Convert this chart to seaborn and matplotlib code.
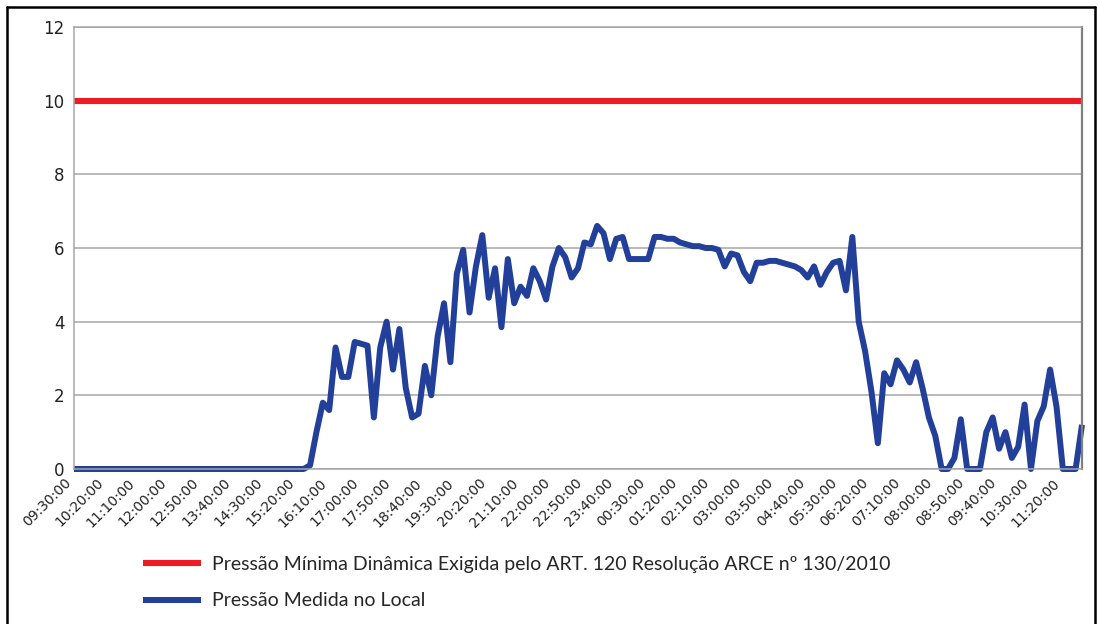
import matplotlib
matplotlib.use('Agg')
import matplotlib.pyplot as plt
from matplotlib.lines import Line2D
import pandas as pd
import seaborn as sns

# pressao medida a cada 10 minutos (mca), de 09:30 ate 11:50 do dia seguinte
pressao_medida = [
    0, 0, 0, 0, 0, 0, 0, 0, 0, 0,
    0, 0, 0, 0, 0, 0, 0, 0, 0, 0,
    0, 0, 0, 0, 0, 0, 0, 0, 0, 0,
    0, 0, 0, 0, 0, 0, 0, 0.1, 1.0, 1.8,
    1.6, 3.3, 2.5, 2.5, 3.45, 3.4, 3.35, 1.4, 3.3, 4.0,
    2.7, 3.8, 2.2, 1.4, 1.5, 2.8, 2.0, 3.6, 4.5, 2.9,
    5.3, 5.95, 4.25, 5.5, 6.35, 4.65, 5.45, 3.85, 5.7, 4.5,
    4.95, 4.7, 5.45, 5.1, 4.6, 5.5, 6.0, 5.75, 5.2, 5.45,
    6.15, 6.1, 6.6, 6.4, 5.7, 6.25, 6.3, 5.7, 5.7, 5.7,
    5.7, 6.3, 6.3, 6.25, 6.25, 6.15, 6.1, 6.05, 6.05, 6.0,
    6.0, 5.95, 5.5, 5.85, 5.8, 5.35, 5.1, 5.6, 5.6, 5.65,
    5.65, 5.6, 5.55, 5.5, 5.4, 5.2, 5.5, 5.0, 5.35, 5.6,
    5.65, 4.85, 6.3, 4.0, 3.2, 2.1, 0.7, 2.6, 2.3, 2.95,
    2.7, 2.35, 2.9, 2.2, 1.4, 0.9, 0.0, 0.0, 0.3, 1.35,
    0.0, 0.0, 0.0, 1.0, 1.4, 0.55, 1.0, 0.3, 0.6, 1.75,
    0.0, 1.3, 1.7, 2.7, 1.7, 0.0, 0.0, 0.0, 1.2,
]
pressao_minima = 10

rotulos_horas = ['09:30:00', '10:20:00', '11:10:00', '12:00:00', '12:50:00', '13:40:00',
                 '14:30:00', '15:20:00', '16:10:00', '17:00:00', '17:50:00', '18:40:00',
                 '19:30:00', '20:20:00', '21:10:00', '22:00:00', '22:50:00', '23:40:00',
                 '00:30:00', '01:20:00', '02:10:00', '03:00:00', '03:50:00', '04:40:00',
                 '05:30:00', '06:20:00', '07:10:00', '08:00:00', '08:50:00', '09:40:00',
                 '10:30:00', '11:20:00']

legenda_minima = 'Pressão Mínima Dinâmica Exigida pelo ART. 120 Resolução ARCE nº 130/2010'
legenda_medida = 'Pressão Medida no Local'

dados = pd.DataFrame({'leitura': range(len(pressao_medida)), 'medida': pressao_medida})
dados['minima'] = pressao_minima

sns.set_style('white')
plt.rcParams['font.family'] = ['DejaVu Sans']

fig = plt.figure(figsize=(11, 6.24), dpi=100)
ax = fig.add_axes([74 / 1100, 1 - 469 / 624, 1008 / 1100, 442 / 624])

sns.lineplot(data=dados, x='leitura', y='minima', ax=ax, color='#ed1c24', linewidth=4.4,
             label=legenda_minima, clip_on=False, solid_capstyle='butt')
sns.lineplot(data=dados, x='leitura', y='medida', ax=ax, color='#22409a', linewidth=4.3,
             label=legenda_medida, clip_on=False, solid_capstyle='butt')

ax.set_xlim(0, len(pressao_medida) - 1)
ax.set_ylim(0, 12)
ax.set_yticks(range(0, 13, 2))
ax.set_xticks(range(0, len(rotulos_horas) * 5, 5))
ax.set_xticklabels(rotulos_horas, rotation=45, ha='right', fontsize=10, color='#222222')
ax.tick_params(axis='y', labelsize=12, length=0, pad=7, labelcolor='#222222')
ax.tick_params(axis='x', length=0, pad=5)
ax.set_xlabel('')
ax.set_ylabel('')
ax.grid(axis='y', color='#a6a6a6', linewidth=1.1)
ax.set_axisbelow(True)
for lado in ['left', 'top', 'bottom']:
    ax.spines[lado].set_color('#a6a6a6')
    ax.spines[lado].set_linewidth(1.1)
ax.spines['right'].set_color('#7f7f7f')
ax.spines['right'].set_linewidth(1.6)

ax.get_legend().remove()
linhas, textos = ax.get_legend_handles_labels()
fig.legend(linhas, textos, loc='upper left', bbox_to_anchor=(143 / 1100, 1 - 556 / 624),
           frameon=False, prop={'family': 'Lato', 'size': 14}, handlelength=3.0,
           handletextpad=0.55, labelspacing=1.0, borderpad=0, borderaxespad=0)

# moldura da imagem
for xs, ys in [([7 / 1100, 7 / 1100], [0, 1 - 7 / 624]),
               ([7 / 1100, 1095 / 1100], [1 - 7 / 624, 1 - 7 / 624]),
               ([1095 / 1100, 1095 / 1100], [0, 1 - 7 / 624])]:
    fig.add_artist(Line2D(xs, ys, color='black', linewidth=1.8, transform=fig.transFigure))

fig.savefig('out.png', dpi=100)
